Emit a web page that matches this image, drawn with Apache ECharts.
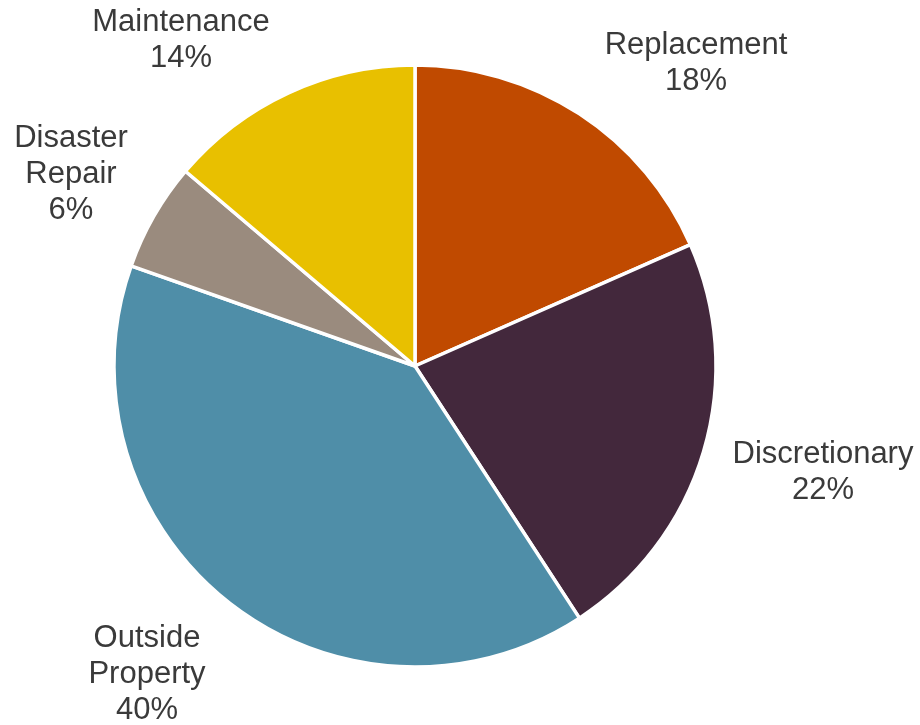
<!DOCTYPE html>
<html>
<head>
<meta charset="utf-8">
<script src="https://cdn.jsdelivr.net/npm/echarts@6/dist/echarts.min.js"></script>
<style>html,body{margin:0;padding:0;background:#fff;}#chart{width:920px;height:725px;}</style>
</head>
<body>
<div id="chart"></div>
<script>
const categories = ['Replacement', 'Discretionary', 'Outside\nProperty', 'Disaster\nRepair', 'Maintenance'];
const values = [18.4, 22.4, 39.6, 5.8, 13.8];
const colors = ['#C04A00', '#43283C', '#4F8EA8', '#9A8B7E', '#E8C000'];
const labelPos = [[696, 63], [823, 472], [147, 674], [71, 174], [181, 40]];

const chart = echarts.init(document.getElementById('chart'), null, {renderer: 'canvas'});
chart.setOption({
  animation: false,
  backgroundColor: '#ffffff',
  series: [{
    type: 'pie',
    center: [415, 366],
    radius: [0, 301],
    startAngle: 90,
    clockwise: true,
    data: categories.map((c, i) => ({name: c, value: values[i], itemStyle: {color: colors[i]}})),
    itemStyle: {borderColor: '#ffffff', borderWidth: 3.5},
    label: {
      show: true,
      position: 'outside',
      formatter: p => p.name + '\n' + Math.round(p.percent) + '%',
      fontFamily: 'Liberation Sans, Arial, sans-serif',
      fontSize: 31,
      lineHeight: 36,
      color: '#3a3a3a',
      align: 'center',
      overflow: 'none',
      width: 300
    },
    labelLine: {show: false},
    labelLayout: p => ({x: labelPos[p.dataIndex][0], y: labelPos[p.dataIndex][1], align: 'center', verticalAlign: 'middle'}),
    emphasis: {disabled: true}
  }]
});
</script>
</body>
</html>
